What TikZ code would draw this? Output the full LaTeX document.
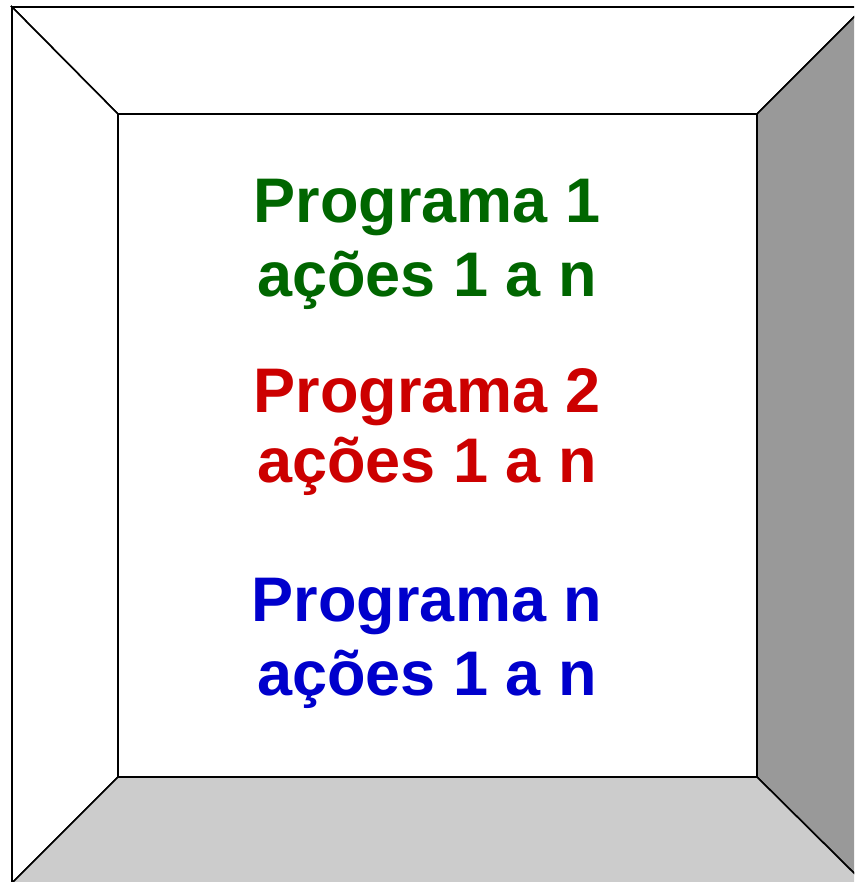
\documentclass[tikz,border=0pt]{standalone}
\usepackage{fontspec}
\setmainfont{Liberation Sans}
\definecolor{pgreen}{HTML}{006600}
\definecolor{pred}{HTML}{CC0000}
\definecolor{pblue}{HTML}{0000CC}
\definecolor{rightgray}{HTML}{999999}
\definecolor{bottomgray}{HTML}{CCCCCC}
\tikzset{
  frameline/.style={draw=black,line width=1.6pt,line join=miter},
  txt/.style={anchor=base,inner sep=0pt,font=\fontsize{63}{72}\selectfont\bfseries}
}
\begin{document}
\begin{tikzpicture}[x=1pt,y=-1pt]
\useasboundingbox (0,0) rectangle (854,882);
\clip (0,0) rectangle (854,882);
% outer corners and inner corners
\coordinate (O1) at (12,7);
\coordinate (O2) at (864,7);
\coordinate (O3) at (864,883);
\coordinate (O4) at (12,883);
\coordinate (I1) at (118,114);
\coordinate (I2) at (757,114);
\coordinate (I3) at (757,777);
\coordinate (I4) at (118,777);
% bevel faces
\path[frameline,fill=white] (O1) -- (O2) -- (I2) -- (I1) -- cycle;
\path[frameline,fill=white] (O1) -- (I1) -- (I4) -- (O4) -- cycle;
\path[frameline,fill=rightgray] (O2) -- (O3) -- (I3) -- (I2) -- cycle;
\path[frameline,fill=bottomgray] (O4) -- (I4) -- (I3) -- (O3) -- cycle;
\path[frameline,fill=white] (I1) rectangle (I3);
% texts
\node[txt,text=pgreen] (p1) at (427,222.5) {Programa 1};
\node[txt,text=pgreen] (a1) at (427,296.5) {ações 1 a n};
\node[txt,text=pred] (p2) at (427,412.5) {Programa 2};
\node[txt,text=pred] (a2) at (427,482.5) {ações 1 a n};
\node[txt,text=pblue] (p3) at (427,621.5) {Programa n};
\node[txt,text=pblue] (a3) at (427,695) {ações 1 a n};
\end{tikzpicture}
\end{document}
